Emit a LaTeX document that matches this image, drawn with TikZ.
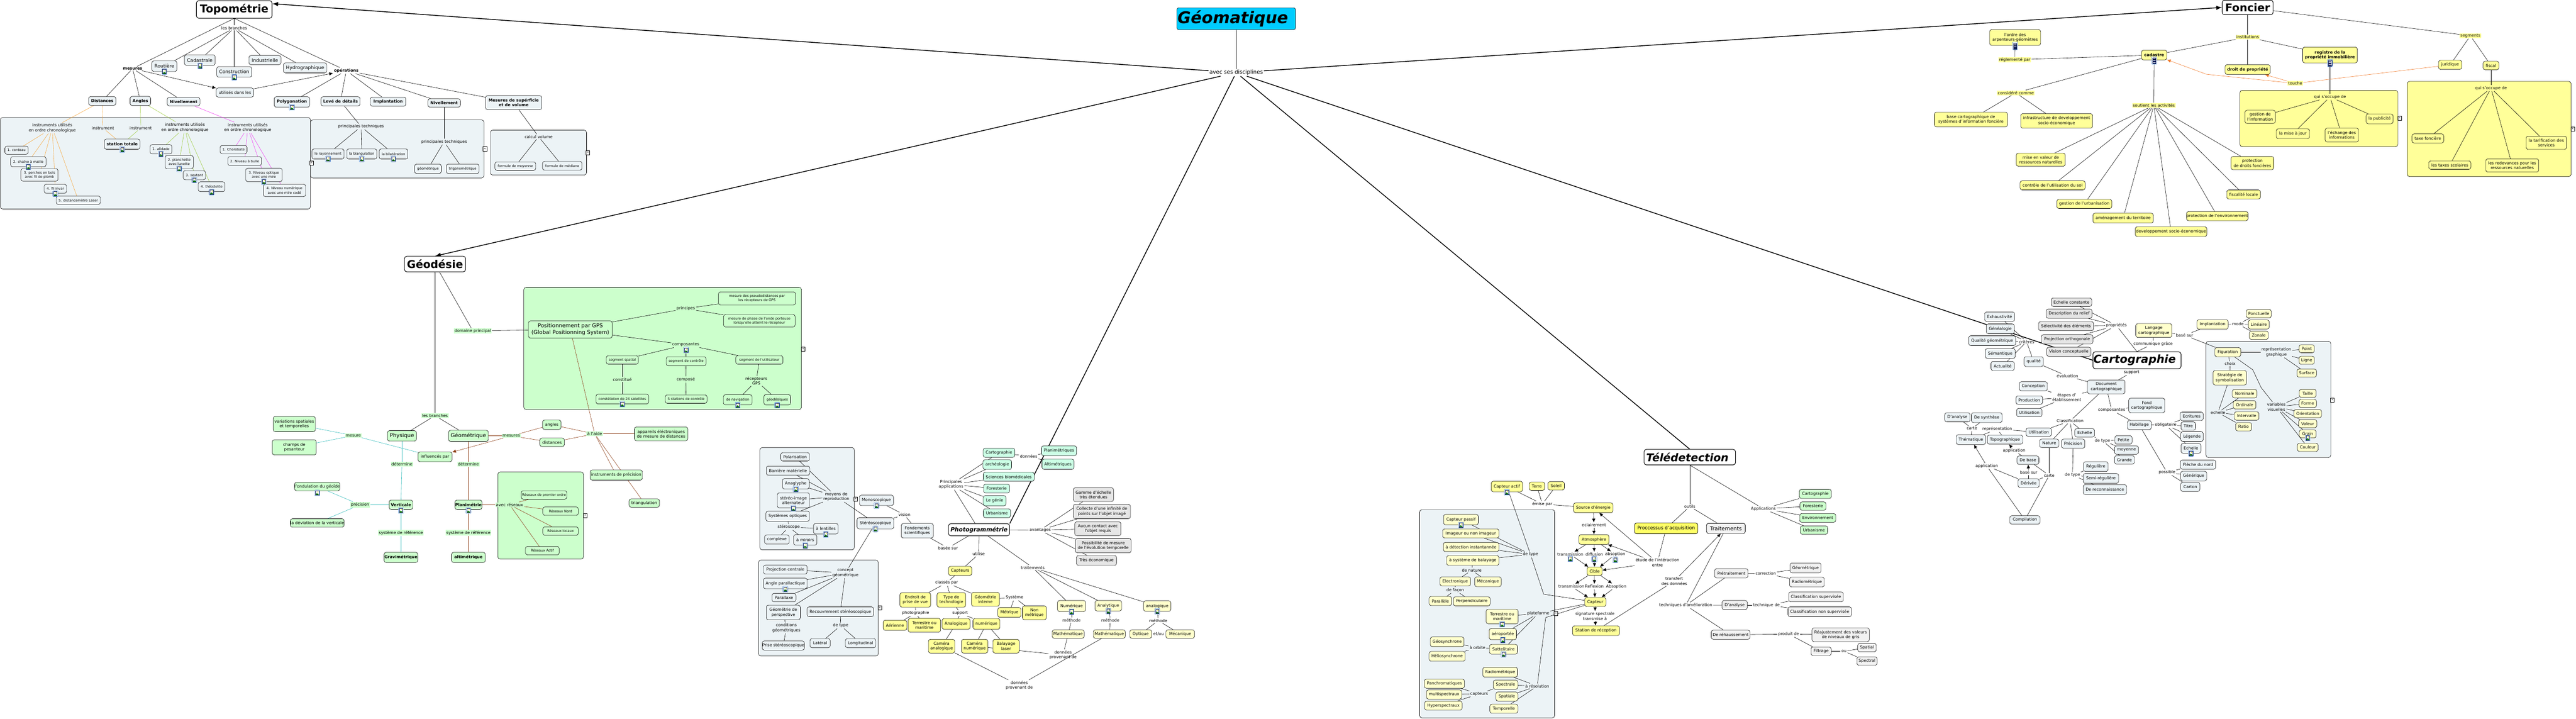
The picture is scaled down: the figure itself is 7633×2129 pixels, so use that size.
\documentclass[tikz,border=0pt]{standalone}
\usepackage{fontspec}
\setmainfont{DejaVu Sans}
\usetikzlibrary{arrows.meta,backgrounds}

\definecolor{panelc}{HTML}{ECF3F6}
\definecolor{yelc}{HTML}{FFFF99}
\definecolor{lyelc}{HTML}{FFFFCC}
\definecolor{strongy}{HTML}{FFFF66}
\definecolor{grnc}{HTML}{CCFFCC}
\definecolor{mintc}{HTML}{CCFFE6}
\definecolor{gryc}{HTML}{E6E6E6}
\definecolor{lgryc}{HTML}{F2F2F2}
\definecolor{skyc}{HTML}{00CCFF}
\definecolor{orangel}{HTML}{F7A63C}
\definecolor{limel}{HTML}{9CCB3B}
\definecolor{magental}{HTML}{F23CF2}
\definecolor{brownl}{HTML}{8B3A12}
\definecolor{teall}{HTML}{33BBBB}
\definecolor{touchel}{HTML}{F07828}
\definecolor{iconblue}{HTML}{3A7FD5}
\definecolor{iconnavy}{HTML}{10205A}

\tikzset{
  base/.style={draw=black,line width=.9pt,rounded corners=6pt,align=center,inner sep=0pt,outer sep=.5pt,font=\fontsize{12}{14.5}\selectfont},
  sz/.style 2 args={minimum width=#1pt,minimum height=#2pt},
  cpan/.style={base,fill=panelc},
  cyel/.style={base,fill=yelc},
  cly/.style={base,fill=lyelc},
  cgr/.style={base,fill=grnc},
  cmi/.style={base,fill=mintc},
  cgy/.style={base,fill=gryc},
  clg/.style={base,fill=lgryc},
  ten/.style={font=\fontsize{10}{12.5}\selectfont},
  ftn/.style={font=\fontsize{14}{17}\selectfont},
  fsx/.style={font=\fontsize{16}{20}\selectfont},
  title/.style={base,fill=white,line width=1.6pt,rounded corners=7pt,font=\fontsize{32}{38}\selectfont\bfseries},
  lbl/.style={inner sep=2pt,outer sep=1pt,align=center,font=\fontsize{12}{14.5}\selectfont},
  lblg/.style={lbl,fill=grnc},
  lbly/.style={lbl,fill=yelc},
  pnl/.style={draw=black,line width=.9pt,rounded corners=7pt},
  foldbox/.style={draw=black,fill=white,line width=.7pt,inner sep=0pt,minimum width=11pt,minimum height=13pt,font=\fontsize{9}{10}\selectfont},
  lnk/.style={draw=black,line width=.9pt},
  arr/.style={lnk,-{Latex[length=11pt,width=10pt]}},
  thk/.style={draw=black,line width=2.3pt},
  thktip/.style={thk,-{Latex[length=17pt,width=13pt]}},
  imgicon/.pic={
    \draw[draw=iconblue,fill=white,line width=.8pt,rounded corners=1.5pt] (-7.5,-8.5) rectangle (7.5,8.5);
    \draw[draw=iconnavy,fill=white,line width=.9pt] (-5,-6.5) rectangle (5,6.5);
    \fill[green!45!black] (-4.5,6) -- (-1,0) -- (1,3) -- (2.5,1.5) -- (4.5,6) -- cycle;
    \fill[yellow!80!orange] (2,-3) circle (1.6);
  },
  docicon/.pic={
    \draw[draw=iconblue,fill=white,line width=.8pt,rounded corners=1.5pt] (-7.5,-11) rectangle (7.5,11);
    \draw[draw=iconnavy,fill=white,line width=.9pt] (-5,-8) rectangle (5,7);
    \foreach \k in {-5,-3,-1,1,3,5} \draw[iconnavy,line width=.7pt] (-3.5,\k) -- (3.5,\k);
    \fill[iconnavy] (-5,8) rectangle (5,10);
  }
}

\begin{document}
\begin{tikzpicture}[x=1pt,y=-1pt]
  \useasboundingbox (0,0) rectangle (7633,2129);

  % --- Centre of the map ---
  \node[base,fill=skyc,line width=.9pt,sz={352}{65},font=\fontsize{48}{56}\selectfont\bfseries\itshape] (geomatique) at (3663,55.5) {Géomatique\hspace*{20pt}};
  \node[lbl,fsx] (discipl) at (3663,215) {avec ses disciplines};

  % --- Topometrie ---
  \node[title,sz={224}{52}] (topo) at (694,28) {Topométrie};
  \node[lbl] (topobr) at (694,83) {les branches};
  \node[cpan,ftn,sz={74}{32}] (routiere) at (487,196) {Routière};
  \node[cpan,ftn,sz={91}{31}] (cadastrale) at (592,178) {Cadastrale};
  \node[cpan,ftn,sz={104}{31}] (constr) at (694,213) {Construction};
  \node[cpan,ftn,sz={95}{27}] (indus) at (785,178) {Industrielle};
  \node[cpan,ftn,sz={128}{30}] (hydro) at (904,201) {Hydrographique};
  \node[lbl] (mes) at (393,203) {\bfseries mesures};
  \node[lbl] (oper) at (1026,209) {\bfseries opérations};
  \node[cpan,sz={111}{27}] (utilis) at (696,274) {utilisés dans les};
  \node[cpan,sz={81}{26}] (dist) at (303,299) {\bfseries Distances};
  \node[cpan,sz={61}{27}] (angl) at (416,299) {\bfseries Angles};
  \node[cpan,sz={97}{25}] (niva) at (544,301) {\bfseries Nivellement};
  \node[cpan,sz={105}{31}] (polyg) at (865,302) {\bfseries Polygonation};
  \node[cpan,sz={116}{27}] (leve) at (1009,300) {\bfseries Levé de détails};
  \node[cpan,sz={105}{27}] (impl) at (1150,301) {\bfseries Implantation};
  \node[cpan,sz={96}{25}] (nivb) at (1316,305) {\bfseries Nivellement};
  \node[cpan,sz={167}{41}] (supf) at (1522,304) {\bfseries Mesures de supérficie\\\bfseries et de volume};

  \node[lbl] (insta) at (155,379) {instruments utilisés\\en ordre chronologique};
  \node[lbl] (instb) at (305,379) {instrument};
  \node[lbl] (instc) at (417,379) {instrument};
  \node[lbl] (instd) at (548,377) {instruments utilisés\\en ordre chronologique};
  \node[lbl] (inste) at (734,378) {instruments utilisés\\en ordre chronologique};
  \node[cpan,sz={106}{30}] (stat) at (362,427) {\bfseries station totale};
  \node[cpan,ten,sz={69}{24}] (cord) at (49,445) {1. cordeau};
  \node[cpan,ten,sz={105}{30}] (chain) at (84,479) {2. chaîne à maille};
  \node[cpan,ten,sz={110}{37}] (perch) at (117,518) {3. perches en bois\\avec fil de plomb};
  \node[cpan,ten,sz={66}{27}] (filinv) at (164,559) {4. fil invar};
  \node[cpan,ten,sz={131}{25}] (laser) at (232,593) {5. distancemètre Laser};
  \node[cpan,ten,sz={65}{27}] (alid) at (477,442) {1. alidade};
  \node[cpan,ten,sz={84}{39}] (planch) at (531,480) {2. planchette\\avec lunette};
  \node[cpan,ten,sz={66}{27}] (sext) at (576,519) {3. sextant};
  \node[cpan,ten,sz={79}{29}] (theod) at (627,553) {4. théodolite};
  \node[cpan,ten,sz={80}{24}] (choro) at (692,443) {1. Chorobate};
  \node[cpan,ten,sz={100}{26}] (nbulle) at (725,477) {2. Niveau à bulle};
  \node[cpan,ten,sz={108}{40}] (nopt) at (782,518) {3. Niveau optique\\avec une mire};
  \node[cpan,ten,sz={125}{37}] (nnum) at (843,564) {4. Niveau numérique\\avec une mire codé};

  \node[lbl] (prina) at (1070,375) {principales techniques};
  \node[lbl] (prinb) at (1316,420) {principales techniques};
  \node[cpan,ten,sz={95}{30}] (rayon) at (972,456) {le rayonnement};
  \node[cpan,ten,sz={89}{30}] (biang) at (1072,456) {la biangulation};
  \node[cpan,ten,sz={85}{30}] (bilat) at (1166,456) {la bilatération};
  \node[cpan,ten,sz={79}{28}] (tgeom) at (1268,500) {géométrique};
  \node[cpan,ten,sz={97}{28}] (ttrig) at (1371,500) {trigonométrique};
  \node[lbl] (calc) at (1596,405) {calcul volume};
  \node[cpan,ten,sz={121}{25}] (fmoy) at (1527,492) {formule de moyenne};
  \node[cpan,ten,sz={117}{26}] (fmed) at (1666,491) {formule de médiane};

  % --- Geodesie ---
  \node[title,sz={181}{46}] (geod) at (1289,782) {Géodésie};
  \node[lblg] (gdom) at (1401,980) {domaine principal};
  \node[lblg] (gbr) at (1289,1231) {les branches};
  \node[cgr,fsx,sz={248}{51}] (gps) at (1690,976) {Positionnement par GPS\\(Global Positionning System)};
  \node[lbl] (gprin) at (2032,914) {principes};
  \node[cgr,ten,sz={228}{39}] (pra) at (2243,884) {mesure des pseudodistances par\\les récepteurs de GPS};
  \node[cgr,ten,sz={212}{37}] (prb) at (2250,950) {mesure de phase de l'onde porteuse\\lorsqu'elle atteint le récepteur};
  \node[lbl] (gcomp) at (2032,1021) {composantes};
  \node[cgr,ten,sz={95}{25}] (sega) at (1844,1066) {segment spatial};
  \node[cgr,ten,sz={118}{27}] (segb) at (2033,1070) {segment de contrôle};
  \node[cgr,ten,sz={140}{25}] (segc) at (2250,1066) {segment de l'utilisateur};
  \node[lbl] (gcst) at (1844,1124) {constitué};
  \node[lbl] (gcps) at (2032,1124) {composé};
  \node[lbl] (grec) at (2241,1128) {récepteurs\\GPS};
  \node[cgr,ten,sz={156}{29}] (gsat) at (1844,1182) {constélation de 24 satellites};
  \node[cgr,ten,sz={124}{25}] (gsta) at (2033,1182) {5 stations de contrôle};
  \node[cgr,ten,sz={85}{30}] (gnav) at (2186,1184) {de navigation};
  \node[cgr,ten,sz={79}{31}] (ggeo) at (2303,1184) {géodésiques};
  \node[cgr,fsx,sz={86}{31}] (phys) at (1191,1291) {Physique};
  \node[cgr,fsx,sz={118}{33}] (geom) at (1388,1291) {Géométrique};
  \node[lblg] (gmes) at (1515,1291) {mesures};
  \node[cgr,sz={55}{28}] (gang) at (1635,1258) {angles};
  \node[cgr,sz={73}{25}] (gdis) at (1636,1310) {distances};
  \node[lblg] (gaide) at (1762,1285) {à l'aide};
  \node[cgr,sz={158}{41}] (gapp) at (1959,1285) {appareils éléctroniques\\de mesure de distances};
  \node[cgr,sz={155}{30}] (gins) at (1826,1407) {instruments de précision};
  \node[cgr,sz={90}{25}] (gtri) at (1909,1490) {triangulation};
  \node[cgr,sz={101}{29}] (ginf) at (1289,1353) {influencés par};
  \node[lblg] (gmesb) at (1047,1290) {mesure};
  \node[cgr,sz={125}{45}] (gvar) at (872,1256) {variations spatiales\\et temporelles};
  \node[cgr,sz={130}{45}] (gcha) at (872,1325) {champs de\\pesanteur};
  \node[lblg] (gdeta) at (1191,1375) {détermine};
  \node[lblg] (gdetb) at (1388,1375) {détermine};
  \node[cgr,sz={120}{25}] (gond) at (940,1441) {l'ondulation du géoïde};
  \node[lblg] (gprec) at (1067,1495) {précision};
  \node[cgr,sz={150}{25}] (gdev) at (940,1549) {la déviation de la verticale};
  \node[cgr,sz={70}{28}] (gvert) at (1188,1495) {\bfseries Verticale};
  \node[cgr,sz={80}{28}] (gplan) at (1388,1495) {\bfseries Planimétrie};
  \node[lblg] (gsyva) at (1188,1578) {système de référence};
  \node[lblg] (gsyvb) at (1388,1578) {système de référence};
  \node[cgr,sz={100}{30}] (ggrav) at (1188,1651) {\bfseries Gravimétrique};
  \node[cgr,sz={100}{30}] (galt) at (1388,1651) {\bfseries altimétrique};
  \node[lblg] (gavec) at (1510,1495) {avec réseaux};
  \node[cgr,ten,sz={135}{25}] (gresa) at (1612,1466) {Réseaux de premier ordre};
  \node[cgr,ten,sz={105}{25}] (gresb) at (1661,1514) {Réseaux Nord};
  \node[cgr,ten,sz={105}{25}] (gresc) at (1661,1573) {Réseaux locaux};
  \node[cgr,ten,sz={100}{25}] (gresd) at (1607,1631) {Réseaux Actif};

  % --- Photogrammetrie ---
  \node[title,sz={181}{36},font=\fontsize{17}{20}\selectfont\bfseries\itshape] (photo) at (2901,1569) {Photogrammétrie};
  \node[lbl] (pbase) at (2809,1623) {basée sur};
  \node[lbl] (putil) at (2900,1641) {utilise};
  \node[lbl] (papp) at (2818,1435) {Principales\\applications};
  \node[cmi,sz={94}{27}] (pcart) at (2960,1341) {Cartographie};
  \node[cmi,sz={85}{29}] (parch) at (2955,1376) {archéologie};
  \node[cmi,sz={151}{27}] (psci) at (2989,1412) {Sciences biomédicales};
  \node[cmi,sz={77}{26}] (pfor) at (2953,1447) {Foresterie};
  \node[cmi,sz={68}{30}] (pgen) at (2947,1483) {Le génie};
  \node[cmi,sz={81}{26}] (purb) at (2954,1520) {Urbanisme};
  \node[lbl] (pdon) at (3048,1351) {données};
  \node[cmi,sz={104}{29}] (pplan) at (3138,1335) {Planimétriques};
  \node[cmi,sz={95}{30}] (palt) at (3135,1375) {Altimétriques};
  \node[lbl] (pava) at (3082,1570) {avantages};
  \node[cgy,sz={119}{41}] (pgam) at (3240,1465) {Gamme d'échelle\\très étendues};
  \node[cgy,sz={169}{43}] (pcol) at (3265,1515) {Collecte d'une infinité de\\points sur l'objet imagé};
  \node[cgy,sz={137}{41}] (pauc) at (3253,1566) {Aucun contact avec\\l'objet requis};
  \node[cgy,sz={165}{43}] (ppos) at (3269,1616) {Possibilité de mesure\\de l'évolution temporelle};
  \node[cgy,sz={119}{29}] (peco) at (3249,1660) {Très économique};
  \node[lbl] (ptrai) at (3060,1681) {traitements};
  \node[cly,sz={83}{33}] (pnum) at (3175,1795) {Numérique};
  \node[cly,sz={79}{31}] (pana) at (3284,1794) {Analytique};
  \node[cly,sz={81}{31}] (palg) at (3429,1795) {analogique};
  \node[lbl] (pmea) at (3175,1837) {méthode};
  \node[lbl] (pmeb) at (3290,1837) {méthode};
  \node[lbl] (pmec) at (3432,1838) {méthode};
  \node[cly,sz={95}{25}] (pmata) at (3165,1878) {Mathématique};
  \node[cly,sz={95}{25}] (pmatb) at (3287,1878) {Mathématique};
  \node[cly,sz={65}{25}] (popt) at (3380,1878) {Optique};
  \node[lbl] (peou) at (3433,1878) {et/ou};
  \node[cly,sz={85}{25}] (pmec2) at (3497,1878) {Mécanique};
  \node[lbl] (pdpa) at (3150,1940) {données\\provenant de};
  \node[lbl] (pdpb) at (3020,2030) {données\\provenant de};

  \node[cyel,sz={69}{27}] (pcap) at (2845,1691) {Capteurs};
  \node[lbl] (pcla) at (2805,1726) {classés par};
  \node[cyel,sz={91}{43}] (pend) at (2712,1777) {Endroit de\\prise de vue};
  \node[cyel,sz={85}{43}] (ptyp) at (2819,1777) {Type de\\technologie};
  \node[cyel,sz={83}{41}] (pgeo) at (2920,1775) {Géométrie\\interne};
  \node[lbl] (psys) at (3006,1770) {Système};
  \node[cyel,sz={69}{29}] (pmet) at (2991,1814) {Métrique};
  \node[cyel,sz={71}{41}] (pnon) at (3065,1815) {Non\\métrique};
  \node[lbl] (pphg) at (2713,1816) {photographie};
  \node[lbl] (psup) at (2845,1816) {support};
  \node[cyel,sz={70}{30}] (paer) at (2652,1852) {Aérienne};
  \node[cyel,sz={96}{41}] (pter) at (2739,1852) {Terrestre ou\\maritime};
  \node[cyel,sz={83}{32}] (panl) at (2833,1848) {Analogique};
  \node[cyel,sz={80}{32}] (pndg) at (2923,1848) {numérique};
  \node[cyel,sz={78}{41}] (pcma) at (2790,1914) {Caméra\\analogique};
  \node[cyel,sz={78}{41}] (pcmb) at (2888,1914) {Caméra\\numérique};
  \node[cyel,sz={78}{41}] (pcmc) at (2981,1914) {Balayage\\laser};

  \node[cpan,sz={109}{33}] (pster) at (2594,1550) {Stéréoscopique};
  \node[cpan,sz={101}{31}] (pmono) at (2597,1482) {Monoscopique};
  \node[lbl] (pvis) at (2680,1525) {vision};
  \node[cpan,sz={95}{43}] (pfond) at (2718,1572) {Fondements\\scientifiques};
  \node[lbl] (pmoy) at (2478,1471) {moyens de\\reproduction};
  \node[cpan,sz={85}{25}] (ppol) at (2356,1353) {Polarisation};
  \node[cpan,sz={129}{27}] (pbar) at (2335,1394) {Barrière matérielle};
  \node[cpan,sz={79}{31}] (pana2) at (2358,1433) {Anaglyphe};
  \node[cpan,sz={95}{45}] (psim) at (2351,1482) {stéréo-image\\alternateur};
  \node[cpan,sz={129}{30}] (popq) at (2334,1529) {Systèmes optiques};
  \node[lbl] (pstos) at (2337,1561) {stéroscope};
  \node[cpan,sz={73}{31}] (plen) at (2447,1566) {à lentilles};
  \node[cpan,sz={73}{27}] (pcpx) at (2302,1598) {complexe};
  \node[cpan,sz={69}{31}] (pmir) at (2386,1599) {à miroirs};
  \node[lbl] (pcon) at (2505,1697) {concept\\géométrique};
  \node[cpan,sz={129}{27}] (ppro) at (2327,1687) {Projection centrale};
  \node[cpan,sz={130}{31}] (pang) at (2327,1728) {Angle parallactique};
  \node[cpan,sz={71}{25}] (ppar) at (2323,1770) {Parallaxe};
  \node[cpan,sz={101}{43}] (pgep) at (2321,1814) {Géométrie de\\perspective};
  \node[cpan,sz={197}{29}] (prec) at (2490,1812) {Recouvrement stéréoscopique};
  \node[lbl] (pcond) at (2330,1860) {conditions\\géométriques};
  \node[cpan,sz={125}{27}] (ppri) at (2321,1912) {Prise stéréoscopique};
  \node[lbl] (pdty) at (2491,1853) {de type};
  \node[cpan,sz={60}{27}] (plat) at (2430,1905) {Latéral};
  \node[cpan,sz={90}{27}] (plon) at (2550,1905) {Longitudinal};

  % --- Teledetection ---
  \node[title,sz={271}{46},font=\fontsize{32}{38}\selectfont\bfseries\itshape] (tele) at (5007,1354) {Télédetection\hspace*{14pt}};
  \node[lbl] (toutil) at (5007,1500) {outils};
  \node[lbl] (tappl) at (5225,1507) {Applications};
  \node[base,fill=strongy,ftn,line width=1.3pt,sz={187}{32}] (tproc) at (4937,1565) {Proccessus d'acquisition};
  \node[base,fill=lgryc,fsx,line width=1.3pt,sz={115}{30}] (ttrai) at (5114,1565) {Traitements};
  \node[cgr,sz={95}{27}] (tcart) at (5379,1463) {Cartographie};
  \node[cgr,sz={77}{25}] (tfor) at (5372,1499) {Foresterie};
  \node[cgr,sz={107}{26}] (tenv) at (5386,1534) {Environnement};
  \node[cgr,sz={81}{25}] (turb) at (5375,1570) {Urbanisme};
  \node[lbl] (tetu) at (4911,1666) {étude de l'intéraction\\entre};
  \node[lbl] (ttra) at (4961,1721) {transfert\\des données};
  \node[clg,sz={99}{27}] (tpre) at (5130,1698) {Prétraitement};
  \node[lbl] (tcor) at (5232,1699) {correction};
  \node[clg,sz={92}{29}] (tcga) at (5350,1682) {Géométrique};
  \node[clg,sz={103}{29}] (tcra) at (5354,1724) {Radiométrique};
  \node[lbl] (ttec) at (4995,1793) {techniques d'amélioration};
  \node[clg,sz={75}{27}] (tdan) at (5140,1792) {D'analyse};
  \node[lbl] (ttde) at (5234,1792) {technique de};
  \node[clg,sz={162}{29}] (tcls) at (5381,1768) {Classification supervisée};
  \node[clg,sz={188}{29}] (tcln) at (5392,1812) {Classification non supervisée};
  \node[clg,sz={115}{27}] (treh) at (5128,1880) {De réhaussement};
  \node[lbl] (tprd) at (5300,1878) {produit de};
  \node[clg,sz={170}{41}] (trej) at (5454,1880) {Réajustement des valeurs\\de niveaux de gris};
  \node[clg,sz={60}{25}] (tfil) at (5396,1929) {Filtrage};
  \node[lbl] (tfou) at (5464,1929) {ou};
  \node[clg,sz={55}{25}] (tspa) at (5532,1918) {Spatial};
  \node[clg,sz={60}{25}] (tspe) at (5532,1958) {Spectral};

  \node[cyel,sz={93}{31}] (tact) at (4465,1441) {Capteur actif};
  \node[cyel,sz={46}{25}] (tter) at (4554,1440) {Terre};
  \node[cyel,sz={49}{25}] (tsol) at (4611,1439) {Soleil};
  \node[lbl] (tems) at (4570,1493) {émise par};
  \node[cyel,sz={117}{29}] (tsrc) at (4721,1504) {Source d'énergie};
  \node[lbl] (tecl) at (4723,1555) {eclairement};
  \node[cyel,sz={89}{29}] (tatm) at (4723,1598) {Atmosphère};
  \node[lbl] (ttra1) at (4653,1642) {transmission};
  \node[lbl] (tdif) at (4724,1642) {diffusion};
  \node[lbl] (tabs) at (4786,1642) {absoption};
  \node[cyel,sz={45}{25}] (tcib) at (4725,1692) {Cible};
  \node[lbl] (ttra2) at (4656,1737) {transmission};
  \node[lbl] (tref) at (4724,1737) {Reflexion};
  \node[lbl] (tabs2) at (4789,1737) {Absoption};
  \node[cyel,sz={63}{27}] (tcapt) at (4727,1783) {Capteur};
  \node[lbl] (tsig) at (4726,1825) {signature spectrale\\transmise à};
  \node[cyel,sz={139}{29}] (tsta) at (4729,1868) {Station de réception};

  \node[cly,sz={103}{31}] (tpas) at (4329,1539) {Capteur passif};
  \node[cly,sz={167}{27}] (tima) at (4358,1580) {Imageur ou non imageur};
  \node[cly,sz={165}{27}] (tdet) at (4359,1620) {à détection instantannée};
  \node[cly,sz={155}{29}] (tbal) at (4364,1660) {à système de balayage};
  \node[lbl] (tdty) at (4535,1642) {de type};
  \node[lbl] (tnat) at (4361,1689) {de nature};
  \node[cly,sz={91}{27}] (tele2) at (4312,1722) {Electronique};
  \node[cly,sz={79}{29}] (tmec) at (4409,1723) {Mécanique};
  \node[lbl] (tfac) at (4312,1748) {de façon};
  \node[cly,sz={67}{27}] (tprl) at (4268,1780) {Parallèle};
  \node[cly,sz={109}{27}] (tppd) at (4361,1781) {Perpendiculaire};
  \node[cly,sz={95}{43}] (tteo) at (4451,1826) {Terrestre ou\\maritime};
  \node[lbl] (tpla) at (4558,1817) {plateforme};
  \node[cly,sz={81}{33}] (taer) at (4453,1878) {aéroportée};
  \node[cly,sz={83}{29}] (tsat) at (4455,1923) {Sattelitaire};
  \node[cly,sz={100}{29}] (tgeo) at (4288,1901) {Géosynchrone};
  \node[cly,sz={107}{29}] (thel) at (4288,1944) {Héliosynchrone};
  \node[lbl] (torb) at (4378,1918) {à orbite};
  \node[cly,sz={103}{29}] (trad) at (4445,1991) {Radiométrique};
  \node[cly,sz={73}{27}] (tspc) at (4461,2028) {Spectrale};
  \node[cly,sz={65}{27}] (tspt) at (4465,2063) {Spatiale};
  \node[cly,sz={83}{27}] (ttem) at (4456,2099) {Temporelle};
  \node[cly,sz={119}{27}] (tpan) at (4280,2025) {Panchromatiques};
  \node[cly,sz={105}{27}] (tmul) at (4279,2057) {multispectraux};
  \node[cly,sz={111}{27}] (thyp) at (4277,2090) {Hyperspectraux};
  \node[lbl] (tcpt) at (4383,2055) {capteurs};
  \node[lbl] (tres) at (4555,2032) {à résolution};

  % --- Cartographie ---
  \node[title,sz={261}{50},font=\fontsize{33}{38}\selectfont\bfseries\itshape] (carto) at (6332,1067) {Cartographie\hspace*{14pt}};
  \node[lbl] (cprop) at (6271,964) {propriétés};
  \node[cgy,sz={120}{25}] (cech) at (6138,895) {Echelle constante};
  \node[cgy,sz={136}{27}] (cdes) at (6131,929) {Description du relief};
  \node[cgy,sz={163}{27}] (csel) at (6122,966) {Sélectivité des éléments};
  \node[cgy,sz={153}{27}] (cpro) at (6125,1005) {Projection orthogonale};
  \node[cgy,sz={131}{27}] (cvis) at (6130,1042) {Vision conceptuelle};
  \node[cly,sz={107}{41}] (clan) at (6382,979) {Langage\\cartographique};
  \node[lbl] (ccom) at (6380,1018) {communique grâce};
  \node[lbl] (cbas) at (6473,993) {basé sur};
  \node[cly,sz={93}{28}] (cimp) at (6556,961) {Implantation};
  \node[lbl] (cmod) at (6631,960) {mode};
  \node[cly,sz={74}{25}] (cpon) at (6693,929) {Ponctuelle};
  \node[cly,sz={62}{27}] (clin) at (6693,961) {Linéaire};
  \node[cly,sz={56}{25}] (czon) at (6693,993) {Zonale};
  \node[cly,sz={77}{27}] (cfig) at (6601,1043) {Figuration};
  \node[lbl] (ccho) at (6608,1077) {choix};
  \node[cly,sz={99}{43}] (cstr) at (6607,1119) {Stratégie de\\symbolisation};
  \node[lbl] (cecl) at (6572,1222) {echelle};
  \node[cly,sz={73}{25}] (cnom) at (6651,1166) {Nominale};
  \node[cly,sz={67}{25}] (cord2) at (6651,1199) {Ordinale};
  \node[cly,sz={73}{25}] (cint) at (6657,1232) {Intervalle};
  \node[cly,sz={47}{25}] (crat) at (6648,1264) {Ratio};
  \node[lbl] (crep) at (6745,1043) {représentation\\graphique};
  \node[cly,sz={45}{24}] (cpoi) at (6835,1033) {Point};
  \node[cly,sz={45}{24}] (clig) at (6835,1067) {Ligne};
  \node[cly,sz={58}{24}] (csur) at (6835,1105) {Surface};
  \node[lbl] (cvar) at (6745,1205) {variables\\visuelles};
  \node[cly,sz={50}{24}] (ctai) at (6838,1165) {Taille};
  \node[cly,sz={52}{24}] (cfor) at (6838,1195) {Forme};
  \node[cly,sz={82}{24}] (cori) at (6838,1225) {Orientation};
  \node[cly,sz={54}{24}] (cval) at (6838,1255) {Valeur};
  \node[cly,sz={50}{24}] (cgra) at (6838,1285) {Grain};
  \node[cly,sz={62}{24}] (ccou) at (6838,1325) {Couleur};

  \node[lbl] (csup) at (6316,1103) {support};
  \node[cpan,sz={111}{41}] (cdoc) at (6241,1146) {Document\\cartographique};
  \node[lbl] (ceva) at (6126,1114) {évaluation};
  \node[lbl] (cetp) at (6124,1177) {étapes d'\\établissement};
  \node[cpan,sz={83}{27}] (ccon) at (6025,1144) {Conception};
  \node[cpan,sz={79}{25}] (cprd) at (6013,1185) {Production};
  \node[cpan,sz={75}{25}] (cuti) at (6013,1222) {Utilisation};
  \node[cpan,sz={57}{29}] (cqua) at (6026,1071) {qualité};
  \node[lbl] (ccri) at (6005,1012) {critères};
  \node[cpan,sz={89}{28}] (cexh) at (5925,938) {Exhaustivité};
  \node[cpan,sz={83}{29}] (cgen) at (5927,974) {Généalogie};
  \node[cpan,sz={139}{29}] (cqge) at (5903,1009) {Qualité géométrique};
  \node[cpan,sz={89}{29}] (csem) at (5927,1047) {Sémantique};
  \node[cpan,sz={69}{27}] (cact) at (5934,1084) {Actualité};
  \node[lbl] (ccla) at (6134,1247) {Classification};
  \node[cpan,sz={75}{25}] (cut2) at (6041,1280) {Utilisation};
  \node[lbl] (crpr) at (5918,1271) {représentation};
  \node[lbl] (ccar) at (5843,1269) {carte};
  \node[cpan,sz={75}{27}] (cdan) at (5800,1236) {D'analyse};
  \node[cpan,sz={91}{29}] (cdsy) at (5887,1237) {De synthèse};
  \node[cpan,sz={87}{29}] (cthe) at (5840,1302) {Thématique};
  \node[cpan,sz={105}{27}] (ctop) at (5941,1302) {Topographique};
  \node[lbl] (capa) at (5968,1334) {application};
  \node[cpan,sz={65}{25}] (cdeb) at (6009,1363) {De base};
  \node[lbl] (capb) at (5887,1380) {application};
  \node[lbl] (cbsu) at (6011,1399) {basé sur};
  \node[cpan,sz={63}{26}] (cder) at (6011,1431) {Dérivée};
  \node[cpan,sz={90}{25}] (ccmp) at (6000,1540) {Compilation};
  \node[cpan,sz={57}{25}] (cnat) at (6072,1313) {Nature};
  \node[lbl] (ccr2) at (6072,1408) {carte};
  \node[cpan,sz={69}{27}] (cpre) at (6143,1314) {Précision};
  \node[lbl] (cty1) at (6141,1407) {de type};
  \node[cpan,sz={59}{25}] (cec1) at (6177,1282) {Echelle};
  \node[lbl] (cty2) at (6230,1305) {de type};
  \node[cpan,sz={51}{25}] (cpet) at (6292,1303) {Petite};
  \node[cpan,sz={71}{25}] (cmoy) at (6301,1333) {moyenne};
  \node[cpan,sz={59}{25}] (cgrd) at (6295,1362) {Grande};
  \node[cpan,sz={73}{29}] (creg) at (6210,1382) {Régulière};
  \node[cpan,sz={105}{29}] (csre) at (6225,1417) {Semi-régulière};
  \node[cpan,sz={129}{29}] (crec) at (6237,1450) {De reconnaissance};
  \node[lbl] (ccps) at (6257,1215) {composantes};
  \node[cpan,sz={107}{43}] (cfon) at (6361,1201) {Fond\\cartographique};
  \node[cpan,sz={71}{27}] (chab) at (6339,1259) {Habillage};
  \node[lbl] (cobl) at (6417,1259) {obligatoire};
  \node[cpan,sz={69}{25}] (cecr) at (6494,1233) {Ecritures};
  \node[cpan,sz={43}{25}] (ctit) at (6484,1262) {Titre};
  \node[cpan,sz={67}{29}] (cleg) at (6495,1293) {Légende};
  \node[cpan,sz={59}{29}] (cec2) at (6492,1328) {Echelle};
  \node[lbl] (cpos) at (6421,1399) {possible};
  \node[cpan,sz={105}{27}] (cfle) at (6513,1376) {Flèche du nord};
  \node[cpan,sz={77}{29}] (cgnq) at (6500,1410) {Générique};
  \node[cpan,sz={57}{27}] (ccrt) at (6490,1442) {Carton};

  % --- Foncier ---
  \node[title,sz={151}{43}] (fonc) at (6660,22) {Foncier};
  \node[lbly] (finst) at (6660,110) {institutions};
  \node[lbly] (fseg) at (7320,106) {segments};
  \node[cyel,sz={75}{29}] (fcad) at (6383,163) {\bfseries cadastre};
  \node[cyel,sz={134}{29}] (fdro) at (6660,206) {\bfseries droit de propriété};
  \node[cyel,sz={162}{47}] (freg) at (6904,163) {\bfseries registre de la\\\bfseries propriété immobilière};
  \node[lbly] (ftou) at (6801,247) {touche};
  \node[cyel,sz={69}{27}] (fjur) at (7260,192) {juridique};
  \node[cyel,sz={47}{25}] (ffis) at (7381,194) {fiscal};
  \node[lbly] (freglt) at (5970,177) {réglementé par};
  \node[cyel,sz={151}{47}] (ford) at (5971,111) {l'ordre des\\arpenteurs-géomètres};
  \node[lbly] (fcons) at (5973,275) {considéré comme};
  \node[cyel,sz={217}{43}] (fbas) at (5840,354) {base cartographique de\\systèmes d'information foncière};
  \node[cyel,sz={213}{43}] (finf) at (6094,358) {infrastructure de developpement\\socio-économique};
  \node[lbly] (fsou) at (6382,312) {soutient les activités};
  \node[cyel,sz={145}{39}] (fmis) at (6047,473) {mise en valeur de\\ressources naturelles};
  \node[cyel,sz={193}{27}] (fctl) at (6082,549) {contrôle de l'utilisation du sol};
  \node[cyel,sz={163}{27}] (fges) at (6176,604) {gestion de l'urbanisation};
  \node[cyel,sz={179}{29}] (fame) at (6291,646) {aménagement du territoire};
  \node[cyel,sz={212}{29}] (fdev) at (6433,686) {developpement socio-économique};
  \node[cyel,sz={165}{27}] (fenv) at (6570,640) {protection de l'environnement};
  \node[cyel,sz={100}{27}] (ffsc) at (6648,576) {fiscalité locale};
  \node[cyel,sz={127}{39}] (fdrf) at (6674,483) {protection\\de droits foncières};
  \node[lbl] (fqua) at (6904,287) {qui s'occupe de};
  \node[cyel,sz={90}{39}] (fgin) at (6697,346) {gestion de\\l'information};
  \node[cyel,sz={99}{29}] (fmaj) at (6794,396) {la mise à jour};
  \node[cyel,sz={99}{41}] (fech) at (6939,400) {l'échange des\\informations};
  \node[cyel,sz={80}{29}] (fpub) at (7051,352) {la publicité};
  \node[lbl] (fqub) at (7381,261) {qui s'occupe de};
  \node[cyel,sz={94}{27}] (ftax) at (7194,410) {taxe foncière};
  \node[cyel,sz={125}{25}] (fsco) at (7259,489) {les taxes scolaires};
  \node[cyel,sz={157}{39}] (fred) at (7444,490) {les redevances pour les\\ressources naturelles};
  \node[cyel,sz={120}{39}] (ftar) at (7545,423) {la tarification des\\services};

  % --- Small icons and fold marks ---
  \foreach \x/\y in {487/212,593/195,694/229,865/318,362/443,84/494,164/574,477/456,531/500,576/533,627/569,782/538,972/471,1072/471,1166/471,
    2033/1037,1844/1197,2186/1200,2303/1200,940/1460,1188/1512,1388/1512,
    2358/1449,2351/1506,2447/1583,2386/1616,2597/1498,2594/1567,2327/1745,3175/1812,3284/1810,3429/1811,
    4465/1458,4653/1655,4724/1656,4786/1658,4329/1555,4451/1849,4453/1896,4455/1938,6492/1343,6838/1297}
    \pic at (\x,\y) {imgicon};
  \foreach \x/\y in {5971/136,6383/179,6904/187}
    \pic at (\x,\y) {docicon};
  \foreach \n/\x/\y in {a/923/483,b/1437/441,c/1742/452,d/2380/1034,e/1734/1527,f/2535/1478,g/2607/1800,h/4610/1817,i/6911/1185,j/7110/350,k/7623/382}
    \node[foldbox] (fold\n) at (\x,\y) {«};

  % --- Bend points of the long connectors ---
  \coordinate (topotip) at (807,11);
  \coordinate (bendcapa) at (4574,1760);
  \coordinate (bendcapb) at (4580,1829);
  \coordinate (bendtou) at (6538,220);
  \coordinate (bendfiga) at (6675,1095);
  \coordinate (bendfigb) at (6700,1148);

  \begin{scope}[on background layer]
    % --- Panels ---
    \node[pnl,fill=panelc,sz={919}{271}] (pnla) at (460.5,483.5) {};
    \node[pnl,fill=panelc,sz={514}{172}] (pnlb) at (1177,441) {};
    \node[pnl,fill=panelc,sz={285}{133}] (pnlc) at (1595.5,452) {};
    \node[pnl,fill=grnc,sz={823}{362}] (pnld) at (1963.5,1032) {};
    \node[pnl,fill=grnc,sz={254}{258}] (pnle) at (1602,1527) {};
    \node[pnl,fill=panelc,sz={280}{303}] (pnlf) at (2391.5,1477) {};
    \node[pnl,fill=panelc,sz={355}{284}] (pnlg) at (2425,1801) {};
    \node[pnl,fill=panelc,sz={400}{617}] (pnlh) at (4406.5,1818) {};
    \node[pnl,fill=panelc,sz={370}{344}] (pnli) at (6721.5,1183) {};
    \node[pnl,fill=yelc,sz={468}{167}] (pnlj) at (6871,351) {};
    \node[pnl,fill=yelc,sz={486}{282}] (pnlk) at (7375.5,382) {};

    % --- Thick links of the centre ---
    \draw[thk] (geomatique.south) -- (discipl);
    \draw[thktip] (discipl) -- (topotip);
    \draw[thktip] (discipl) -- (geod.north);
    \draw[thktip] (discipl) -- (fonc.west);
    \draw[thk] (discipl) -- (photo.north east);
    \draw[thk] (discipl) -- (tele.north);
    \draw[thk] (discipl) -- (carto.west);

    % --- Black links ---
    \foreach \p/\q in {topo.south/topobr,topobr/routiere,topobr/cadastrale,topobr/constr,topobr/indus,topobr/hydro,topo.south/mes,topo.south/oper,
      mes/dist,mes/angl,mes/niva,oper/polyg,oper/leve,oper/impl,oper/nivb,oper/supf,leve/prina,prina/rayon,prina/biang,prina/bilat,
      nivb/prinb,prinb/tgeom,prinb/ttrig,supf/calc,calc/fmoy,calc/fmed,
      geod/gbr,geod/gdom,gdom/gps,gbr/phys,gbr/geom,gps/gprin,gprin/pra,gprin/prb,gps/gcomp,gcomp/sega,gcomp/segb,gcomp/segc,
      sega/gcst,gcst/gsat,segb/gcps,gcps/gsta,segc/grec,grec/gnav,grec/ggeo,
      photo/pbase,pbase/pfond,pfond/pvis,pvis/pmono,pvis/pster,pster/pmoy,pmoy/ppol,pmoy/pbar,pmoy/pana2,pmoy/psim,pmoy/popq,
      popq/pstos,pstos/plen,pstos/pcpx,pstos/pmir,pster/pcon,pcon/ppro,pcon/pang,pcon/ppar,pcon/pgep,pcon/prec,pgep/pcond,pcond/ppri,
      prec/pdty,pdty/plat,pdty/plon,photo/papp,papp/pcart,papp/parch,papp/psci,papp/pfor,papp/pgen,papp/purb,pcart/pdon,pdon/pplan,pdon/palt,
      photo/pava,pava/pgam,pava/pcol,pava/pauc,pava/ppos,pava/peco,photo/ptrai,ptrai/pnum,ptrai/pana,ptrai/palg,pnum/pmea,pana/pmeb,palg/pmec,
      pmea/pmata,pmeb/pmatb,pmec/popt,pmec/pmec2,photo/putil,putil/pcap,pcap/pcla,pcla/pend,pcla/ptyp,pcla/pgeo,pgeo/psys,psys/pmet,psys/pnon,
      pend/pphg,pphg/paer,pphg/pter,ptyp/psup,psup/panl,psup/pndg,panl/pcma,pndg/pcmb,pndg/pcmc,pmata/pdpa,pdpa/pcmb,pmatb/pdpb,pdpb/pcma,
      tele.south/toutil,tele.south/tappl,toutil/tproc,toutil/ttrai,tappl/tcart,tappl/tfor,tappl/tenv,tappl/turb,tproc/tetu,tsta/ttra,ttrai/ttec,
      ttec/tpre,ttec/tdan,ttec/treh,tpre/tcor,tcor/tcga,tcor/tcra,tdan/ttde,ttde/tcls,ttde/tcln,treh/tprd,tprd/trej,tprd/tfil,tfil/tfou,tfou/tspa,tfou/tspe,
      tsrc/tems,tems/tact,tems/tter,tems/tsol,tdty/tact,tdty/tpas,tdty/tima,tdty/tdet,tdty/tbal,tbal/tnat,tnat/tele2,tnat/tmec,tele2/tfac,tfac/tprl,tfac/tppd,
      tcapt/tpla,tpla/tteo,tpla/taer,tpla/tsat,tsat/torb,torb/tgeo,torb/thel,tres/trad,tres/tspc,tres/tspt,tres/ttem,tspc/tcpt,tcpt/tpan,tcpt/tmul,tcpt/thyp,
      carto.north/cprop,cprop/cech,cprop/cdes,cprop/csel,cprop/cpro,cprop/cvis,carto.north/ccom,ccom/clan,clan/cbas,cbas/cimp,cimp/cmod,cmod/cpon,cmod/clin,cmod/czon,
      cbas/cfig,cfig/ccho,ccho/cstr,cstr/cecl,cecl/cnom,cecl/cord2,cecl/cint,cecl/crat,cfig/crep,crep/cpoi,crep/clig,crep/csur,cvar/ctai,cvar/cfor,cvar/cori,cvar/cval,cvar/cgra,cvar/ccou,
      carto/csup,csup/cdoc,cdoc/ceva,ceva/cqua,cqua/ccri,ccri/cexh,ccri/cgen,ccri/cqge,ccri/csem,ccri/cact,cdoc/cetp,cetp/ccon,cetp/cprd,cetp/cuti,
      cdoc/ccla,ccla/cut2,ccla/cnat,ccla/cpre,ccla/cec1,cut2/crpr,crpr/cthe,crpr/ctop,cthe/ccar,ccar/cdan,ccar/cdsy,cnat/ccr2,ccr2/cdeb,ccr2/cder,ccr2/ccmp,
      cpre/cty1,cty1/creg,cty1/csre,cty1/crec,cec1/cty2,cty2/cpet,cty2/cmoy,cty2/cgrd,cdoc/ccps,ccps/cfon,ccps/chab,chab/cobl,cobl/cecr,cobl/ctit,cobl/cleg,cobl/cec2,
      chab/cpos,cpos/cfle,cpos/cgnq,cpos/ccrt,capa/cdeb,cder/cbsu,cder/capb,capb/ccmp,
      fonc.south/finst,fonc/fseg,finst/fcad,finst/fdro,finst/freg,fseg/fjur,fseg/ffis,freg/fqua,fqua/fgin,fqua/fmaj,fqua/fech,fqua/fpub,ffis/fqub,fqub/ftax,fqub/fsco,fqub/fred,fqub/ftar,
      fcad/freglt,freglt/ford,fcad/fcons,fcons/fbas,fcons/finf,fcad/fsou,fsou/fmis,fsou/fctl,fsou/fges,fsou/fame,fsou/fdev,fsou/fenv,fsou/ffsc,fsou/fdrf}
      \draw[lnk] (\p) -- (\q);

    \draw[lnk] (tcapt) -- (bendcapa) -- (tdty);
    \draw[lnk] (tcapt) -- (bendcapb) -- (tres);
    \draw[lnk] (cfig) -- (bendfiga) -- (bendfigb) -- (cvar);

    % --- Links with a tip ---
    \foreach \p/\q in {mes/utilis,utilis/oper,tsrc/tecl,tecl/tatm,tatm/ttra1,tatm/tdif,tatm/tabs,ttra1/tcib,tdif/tcib,tabs/tcib,
      tcib/ttra2,tcib/tref,tcib/tabs2,ttra2/tcapt,tref/tcapt,tabs2/tcapt,tcapt/tsig,tsig/tsta,tetu/tsrc,tetu/tatm,tetu/tcib,ttra/ttrai,
      capa/ctop,capb/cthe,cbsu/cdeb}
      \draw[arr] (\p) -- (\q);

    % --- Coloured links ---
    \foreach \p/\q in {dist/insta,dist/instb,instb/stat,insta/cord,insta/chain,insta/perch,insta/filinv,insta/laser}
      \draw[draw=orangel,line width=.9pt] (\p) -- (\q);
    \foreach \p/\q in {angl/instc,instc/stat,angl/instd,instd/alid,instd/planch,instd/sext,instd/theod}
      \draw[draw=limel,line width=.9pt] (\p) -- (\q);
    \foreach \p/\q in {niva/inste,inste/choro,inste/nbulle,inste/nopt,inste/nnum}
      \draw[draw=magental,line width=.9pt] (\p) -- (\q);
    \foreach \p/\q in {gps/gaide,geom/gmes,gmes/gang,gmes/gdis,gang/gaide,gdis/gaide,gaide/gapp,gaide/gins,gaide/gtri,geom/gdetb,gdetb/gplan,gplan/gsyvb,gsyvb/galt,gplan/gavec,gavec/gresa,gavec/gresb,gavec/gresc,gavec/gresd}
      \draw[draw=brownl,line width=.9pt] (\p) -- (\q);
    \draw[draw=brownl,line width=.9pt,-{Latex[length=11pt,width=10pt]}] (gmes) -- (ginf);
    \foreach \p/\q in {ginf/gmesb,gmesb/gvar,gmesb/gcha,phys/gdeta,gdeta/gvert,gvert/gprec,gprec/gond,gprec/gdev,gvert/gsyva,gsyva/ggrav}
      \draw[draw=teall,line width=.9pt] (\p) -- (\q);
    \draw[draw=touchel,line width=.9pt] (fjur) -- (ftou);
    \draw[draw=touchel,line width=.9pt,-{Latex[length=11pt,width=10pt]}] (ftou) -- (fdro);
    \draw[draw=touchel,line width=.9pt,-{Latex[length=11pt,width=10pt]}] (ftou) -- (bendtou) -- (fcad);
  \end{scope}
\end{tikzpicture}
\end{document}
